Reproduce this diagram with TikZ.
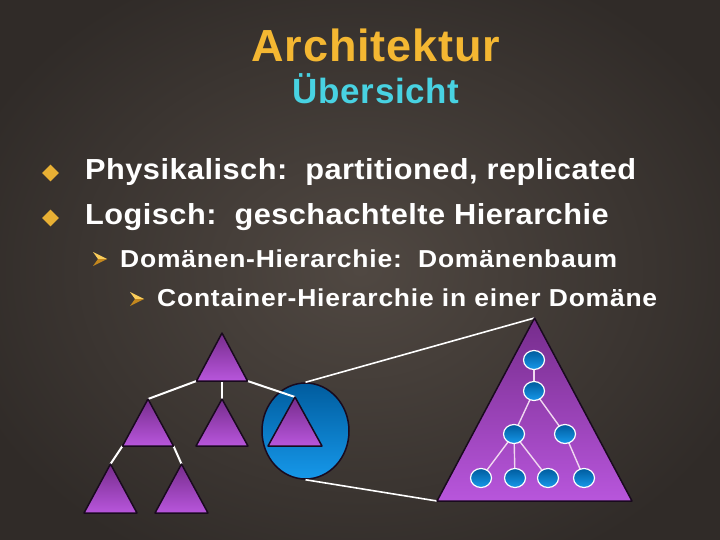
\documentclass[tikz,border=0pt]{standalone}
\usepackage{fontspec}
\setmainfont{Liberation Sans}
\newfontfamily\ttlfont[LetterSpace=2]{Liberation Sans}
\newfontfamily\lvlonefont[LetterSpace=1.6,FakeStretch=1.06]{Liberation Sans}
\newfontfamily\lvltwofont[LetterSpace=3.2,FakeStretch=1.08]{Liberation Sans}
\usetikzlibrary{shapes.geometric}
\pgfdeclarelayer{front}
\pgfsetlayers{main,front}
\definecolor{bgmid}{RGB}{80,72,66}
\definecolor{bgout}{RGB}{48,43,40}
\definecolor{gold}{RGB}{244,183,50}
\definecolor{cyantxt}{RGB}{72,210,226}
\definecolor{bulletgold}{RGB}{232,176,52}
\definecolor{arrowlight}{RGB}{250,205,90}
\definecolor{arrowdark}{RGB}{196,136,30}
\definecolor{purpletop}{RGB}{118,44,140}
\definecolor{purplebot}{RGB}{184,86,220}
\definecolor{bluetop}{RGB}{0,92,158}
\definecolor{bluebot}{RGB}{22,152,234}
\definecolor{edgepink}{RGB}{240,215,240}
\definecolor{outl}{RGB}{25,10,30}
\newcommand\ptri[5]{%
  \coordinate (#1-a) at (#2,#3);
  \coordinate (#1-l) at ({#2-#4},{#3+#5});
  \coordinate (#1-r) at ({#2+#4},{#3+#5});
  \coordinate (#1-b) at (#2,{#3+#5});
}
\begin{document}
\begin{tikzpicture}[x=1pt,y=-1pt,
  tri/.style={top color=purpletop, bottom color=purplebot, draw=outl, line width=1.5pt, line join=round},
  link/.style={draw=white, line width=2pt},
  zoomlink/.style={draw=white, line width=1.6pt},
  tn/.style={ellipse, minimum width=21pt, minimum height=19pt, inner sep=0pt,
    top color=bluetop, bottom color=bluebot, draw=white, line width=1.2pt},
  tedge/.style={draw=edgepink, line width=1.4pt},
  bullet/.style={diamond, fill=bulletgold, minimum width=17pt, minimum height=17pt, inner sep=0pt},
  lvlone/.style={anchor=base west, inner sep=0pt, text=white, font=\lvlonefont\bfseries\fontsize{29}{29}\selectfont},
  lvltwo/.style={anchor=base west, inner sep=0pt, text=white, font=\lvltwofont\bfseries\fontsize{24.5}{24.5}\selectfont}
]
\useasboundingbox (0,0) rectangle (720,540);
\shade[inner color=bgmid, outer color=bgout] (-60,-60) rectangle (780,600);

% titles
\node[anchor=base, inner sep=0pt, text=gold, font=\ttlfont\bfseries\fontsize{45}{45}\selectfont] (title) at (376,61.7) {Architektur};
\node[anchor=base, inner sep=0pt, text=cyantxt, font=\ttlfont\bfseries\fontsize{35}{35}\selectfont] (subtitle) at (376,104) {Übersicht};

% bullets
\node[bullet] (b1) at (50.5,173) {};
\node[bullet] (b2) at (50.5,218) {};
\node[lvlone] (l1) at (85,179.5) {Physikalisch:\ \ partitioned, replicated};
\node[lvlone] (l2) at (85,224.5) {Logisch:\ \ geschachtelte Hierarchie};

\fill[arrowlight] (93,252) -- (107,259) -- (98,259) -- cycle;
\fill[arrowdark] (93,266) -- (107,259) -- (98,259) -- cycle;
\node[lvltwo] (s1) at (120,267) {Domänen-Hierarchie:\ \ Domänenbaum};
\fill[arrowlight] (130,292) -- (144,299) -- (135,299) -- cycle;
\fill[arrowdark] (130,306) -- (144,299) -- (135,299) -- cycle;
\node[lvltwo] (s2) at (157,306) {Container-Hierarchie in einer Domäne};

% geometry
\ptri{T0}{222}{333}{25.5}{48}
\ptri{T1}{148}{399}{25.5}{47}
\ptri{T2}{222}{399}{26}{47}
\ptri{T3}{295}{397}{27}{49}
\ptri{T4}{110.5}{464}{26.5}{49}
\ptri{T5}{181.5}{464}{26.5}{49}
\ptri{TB}{534.5}{318}{97.5}{183}

% domain circle
\node[ellipse, minimum width=87pt, minimum height=96pt, inner sep=0pt,
  top color=bluetop, bottom color=bluebot, draw=outl, line width=1.5pt] (dom) at (305.5,431) {};

% connectors of domain tree
\draw[link] (T0-l) -- (T1-a);
\draw[link] (T0-b) -- (T2-a);
\draw[link] (T0-r) -- (T3-a);
\draw[link] (T1-l) -- (T4-a);
\draw[link] (T1-r) -- (T5-a);

% zoom lines
\draw[zoomlink] (dom.north) -- (TB-a);
\draw[zoomlink] (dom.south) -- (TB-l);

% triangles
\foreach \t in {T0,T1,T2,T3,T4,T5,TB}
  \path[tri] (\t-a) -- (\t-r) -- (\t-l) -- cycle;

% container tree
\begin{pgfonlayer}{front}
\node[tn] (n1) at (534,360) {};
\node[tn] (n2) at (534,391) {};
\node[tn] (n3) at (514,434) {};
\node[tn] (n4) at (565,434) {};
\node[tn] (c1) at (481,478) {};
\node[tn] (c2) at (515,478) {};
\node[tn] (c3) at (548,478) {};
\node[tn] (c4) at (584,478) {};
\end{pgfonlayer}
\draw[tedge] (n1.center) -- (n2.center);
\draw[tedge] (n2.center) -- (n3.center);
\draw[tedge] (n2.center) -- (n4.center);
\draw[tedge] (n3.center) -- (c1.center);
\draw[tedge] (n3.center) -- (c2.center);
\draw[tedge] (n3.center) -- (c3.center);
\draw[tedge] (n4.center) -- (c4.center);
\end{tikzpicture}
\end{document}
